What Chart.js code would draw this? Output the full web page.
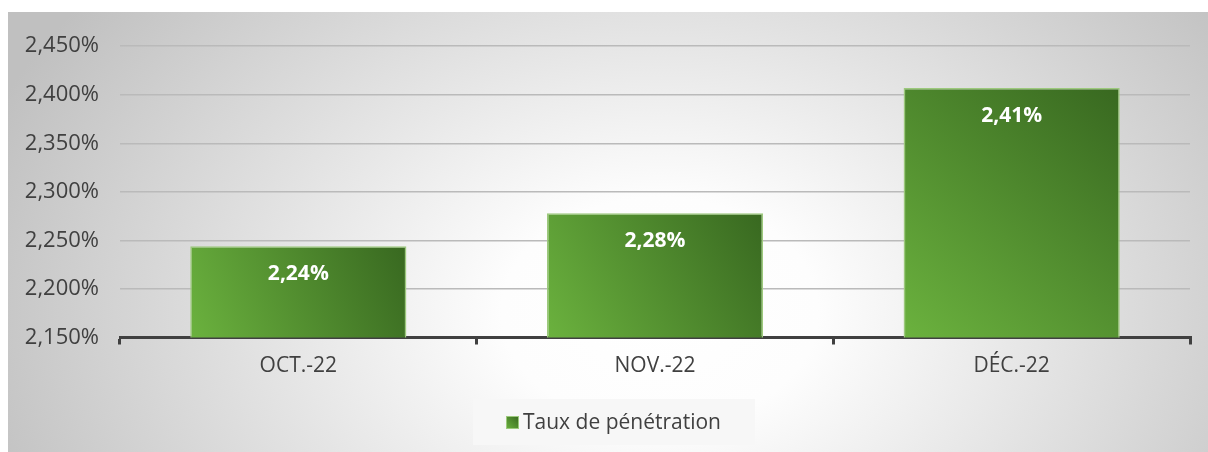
<!DOCTYPE html>
<html lang="fr">
<head>
<meta charset="utf-8">
<title>Taux de pénétration</title>
<script src="https://cdn.jsdelivr.net/npm/chart.js@4.4.1/dist/chart.umd.min.js"></script>
<style>
    html, body { margin: 0; padding: 0; background: #ffffff; overflow: hidden; }
    body { width: 1208px; height: 452px; position: relative; }
    #fig-title {
        position: absolute; left: 15px; top: -23px;
        font: bold 22px "Liberation Serif", "DejaVu Serif", serif;
        line-height: 22px; word-spacing: 11px; color: #000; white-space: nowrap;
    }
    #chart-box {
        position: absolute; left: 8px; top: 12px; width: 1200px; height: 440px;
        background: radial-gradient(ellipse 720px 520px at 652px 300px, #ffffff 0%, #fdfdfd 22%, #c0c0c0 100%);
    }
    canvas { display: block; }
</style>
</head>
<body>
<div id="fig-title">Figure 12 : Evolution du taux de pénétration (en %)</div>
<div id="chart-box"><canvas id="chart" width="1200" height="440"></canvas></div>
<script>
const months = ['OCT.-22', 'NOV.-22', 'DÉC.-22'];
const penetrationRate = [2.244, 2.278, 2.407];
const seriesLabel = 'Taux de pénétration';
const yMin = 2.15;
const yMax = 2.45;
const yStep = 0.05;

const textColor = '#404040';
const fontFamily = '"Open Sans", "Liberation Sans", sans-serif';

const frNum = (v, digits) => v.toFixed(digits).replace('.', ',') + '%';

function barGradient(ctx, x0, y0, x1, y1) {
    const g = ctx.createLinearGradient(x0, y0, x1, y1);
    g.addColorStop(0, '#6bb23e');
    g.addColorStop(1, '#386820');
    return g;
}

function barFill(context) {
    const chart = context.chart;
    const { x, y } = chart.scales;
    if (!chart.chartArea || !x || !y) return '#5a9a36';
    const idx = context.dataIndex;
    const cx = x.getPixelForValue(idx);
    const hw = (x.width / months.length) * 0.606 / 2;
    const top = y.getPixelForValue(context.raw);
    return barGradient(chart.ctx, cx - hw, y.bottom, cx + hw, top);
}

const valueLabels = {
    id: 'valueLabels',
    afterDatasetsDraw(chart) {
        const ctx = chart.ctx;
        const meta = chart.getDatasetMeta(0);
        ctx.save();
        ctx.fillStyle = '#ffffff';
        ctx.font = `bold 21px ${fontFamily}`;
        ctx.textAlign = 'center';
        ctx.textBaseline = 'middle';
        meta.data.forEach((bar, i) => {
            ctx.fillText(frNum(penetrationRate[i], 2), bar.x, bar.y + 28);
        });
        ctx.restore();
    }
};

// legend drawn by hand so the box sits where the original has it
const boxLegend = {
    id: 'boxLegend',
    afterDraw(chart) {
        const ctx = chart.ctx;
        ctx.save();
        ctx.fillStyle = '#f7f7f7';
        ctx.fillRect(465, 387, 282, 46);
        ctx.fillStyle = barGradient(ctx, 498, 417, 511, 404);
        ctx.fillRect(498, 404, 13, 13);
        ctx.strokeStyle = '#9cc97c';
        ctx.lineWidth = 1;
        ctx.strokeRect(498.5, 404.5, 12, 12);
        ctx.fillStyle = textColor;
        ctx.font = `21px ${fontFamily}`;
        ctx.textAlign = 'left';
        ctx.textBaseline = 'middle';
        ctx.fillText(chart.data.datasets[0].label, 515, 411);
        ctx.restore();
    }
};

new Chart(document.getElementById('chart'), {
    type: 'bar',
    data: {
        labels: months,
        datasets: [{
            label: seriesLabel,
            data: penetrationRate,
            backgroundColor: barFill,
            borderColor: '#9cc97c',
            borderWidth: 1.5,
            borderSkipped: 'bottom',
            barPercentage: 0.606,
            categoryPercentage: 1,
        }],
    },
    options: {
        responsive: false,
        animation: false,
        devicePixelRatio: 1,
        layout: { padding: { top: 27, right: 18, left: 0, bottom: 0 } },
        plugins: {
            legend: { display: false },
            tooltip: { enabled: false },
        },
        scales: {
            x: {
                afterFit: (scale) => { scale.height = 114.5; },
                border: { display: true, color: textColor, width: 3 },
                grid: { drawOnChartArea: false, drawTicks: true, tickLength: 7, color: textColor, lineWidth: 3 },
                ticks: { color: textColor, font: { family: fontFamily, size: 21 }, padding: 9 },
            },
            y: {
                min: yMin,
                max: yMax,
                afterFit: (scale) => { scale.width = 112; },
                border: { display: false },
                grid: { color: '#bababa', lineWidth: 1.5, drawTicks: false },
                ticks: {
                    stepSize: yStep,
                    color: textColor,
                    padding: 21,
                    font: { family: fontFamily, size: 22 },
                    callback: (v) => frNum(v, 3),
                },
            },
        },
    },
    plugins: [valueLabels, boxLegend],
});
</script>
</body>
</html>
